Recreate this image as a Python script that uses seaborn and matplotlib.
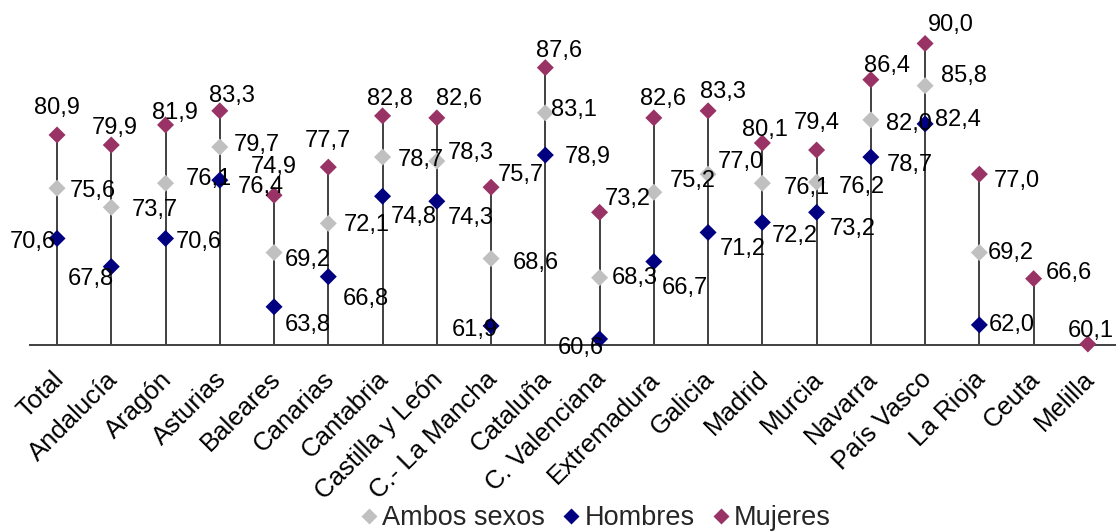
import numpy as np
import pandas as pd
import matplotlib
matplotlib.use("Agg")
import matplotlib.pyplot as plt
import matplotlib.transforms as mtransforms
import seaborn as sns

# ---------------- data ----------------
categorias = ["Total", "Andalucía", "Aragón", "Asturias", "Baleares", "Canarias",
              "Cantabria", "Castilla y León", "C.- La Mancha", "Cataluña",
              "C. Valenciana", "Extremadura", "Galicia", "Madrid", "Murcia",
              "Navarra", "País Vasco", "La Rioja", "Ceuta", "Melilla"]
ambos = [75.6, 73.7, 76.1, 79.7, 69.2, 72.1, 78.7, 78.3, 68.6, 83.1,
         66.7, 75.2, 77.0, 76.1, 76.2, 82.4, 85.8, 69.2, np.nan, np.nan]
hombres = [70.6, 67.8, 70.6, 76.4, 63.8, 66.8, 74.8, 74.3, 61.9, 78.9,
           60.6, 68.3, 71.2, 72.2, 73.2, 78.7, 82.0, 62.0, np.nan, np.nan]
mujeres = [80.9, 79.9, 81.9, 83.3, 74.9, 77.7, 82.8, 82.6, 75.7, 87.6,
           73.2, 82.6, 83.3, 80.1, 79.4, 86.4, 90.0, 77.0, 66.6, 60.1]
series = ["Ambos sexos", "Hombres", "Mujeres"]

# ---------------- styles ----------------
colores = {"Ambos sexos": "#C0C0C0", "Hombres": "#000080", "Mujeres": "#993366"}
# label offsets (pixels; dx right, dy down) relative to each marker
off_ambos = [(36, 0), (44, 0), (43, -7), (37, -4), (34, 5), (38, -1), (38, 0),
             (34, -11), (45, 2), (29, -5), (85, 8), (39, -14), (33, -15),
             (44, 2), (45, 2), (87, -2), (39, -12), (31, -2), (0, 0), (0, 0)]
off_hombres = [(-24, 1), (-20, 10), (33, 1), (41, 4), (34, 16), (38, 20),
               (31, 18), (34, 14), (-16, 2), (42, -1), (-19, 7), (-19, 14),
               (35, 14), (32, 11), (36, 14), (39, 5), (-16, -2), (32, -2),
               (0, 0), (0, 0)]
off_mujeres = [(0, -29), (3, -19), (9, -14), (12, -17), (0, -31), (0, -29),
               (7, -19), (22, -21), (30, -15), (14, -19), (28, -16), (9, -21),
               (15, -21), (3, -15), (0, -29), (16, -16), (26, -21), (37, 4),
               (35, -8), (3, -15)]
offsets = {"Ambos sexos": off_ambos, "Hombres": off_hombres, "Mujeres": off_mujeres}

FONT = "Liberation Sans"
FS = 17        # data labels
FS_CAT = 18.5  # category labels
FS_LEG = 19.5  # legend

sns.set_theme(style="white")
plt.rcParams["font.family"] = [FONT, "DejaVu Sans"]

valores = {"Ambos sexos": ambos, "Hombres": hombres, "Mujeres": mujeres}
rows = []
for s in series:
    for c, v in zip(categorias, valores[s]):
        rows.append({"cat": c, "serie": s, "valor": v})
df = pd.DataFrame(rows)
df["cat"] = pd.Categorical(df["cat"], categories=categorias, ordered=True)
df["pos"] = df["cat"].cat.codes
df_ok = df.dropna(subset=["valor"])

fig = plt.figure(figsize=(11.16, 5.32), dpi=100)
ax = fig.add_axes([29.9 / 1116, (532 - 345) / 532, (1115 - 29.9) / 1116, 345 / 532])

ymin = 60
ytop = 60 + 345 / 10.05
ax.set_xlim(-0.5, len(categorias) - 0.5)
ax.set_ylim(ymin, ytop)

# stems from axis to highest value of each category
maxima = df_ok.groupby("pos")["valor"].max()
ax.vlines(maxima.index, ymin, maxima.values, color="#404040", lw=1.4, zorder=1)

sns.scatterplot(data=df_ok, x="pos", y="valor", hue="serie", hue_order=series,
                palette=colores, marker="D", s=75, edgecolor="none",
                ax=ax, zorder=3, clip_on=False)

# data labels
base = 0.358 * FS * 100 / 72
for s in series:
    for i, v in enumerate(valores[s]):
        if np.isnan(v):
            continue
        dx, dy = offsets[s][i]
        ax.annotate(f"{v:.1f}".replace(".", ","), (i, v),
                    xytext=(dx, -dy - base), textcoords="offset pixels",
                    ha="center", va="baseline", fontsize=FS, color="black",
                    zorder=4, annotation_clip=False)

ax.set_xticks(range(len(categorias)))
ax.set_xticklabels(categorias, rotation=45, ha="right", rotation_mode="anchor",
                   fontsize=FS_CAT, color="black")
ax.tick_params(axis="x", length=0, pad=13)
shift = mtransforms.ScaledTranslation(-6 / 100, -4 / 100, fig.dpi_scale_trans)
for lab in ax.get_xticklabels():
    lab.set_transform(lab.get_transform() + shift)
ax.set_yticks([])
ax.set_xlabel("")
ax.set_ylabel("")
for side in ["left", "right", "top"]:
    ax.spines[side].set_visible(False)
ax.spines["bottom"].set_color("#404040")
ax.spines["bottom"].set_linewidth(1.4)

sns.move_legend(ax, "center", bbox_to_anchor=(593 / 1116, 1 - 518 / 532),
                bbox_transform=fig.transFigure, ncol=3, frameon=False,
                title=None, fontsize=FS_LEG, markerscale=0.9,
                handletextpad=0.0, columnspacing=0.46, handlelength=1.0)

fig.savefig("out.png", dpi=100)
